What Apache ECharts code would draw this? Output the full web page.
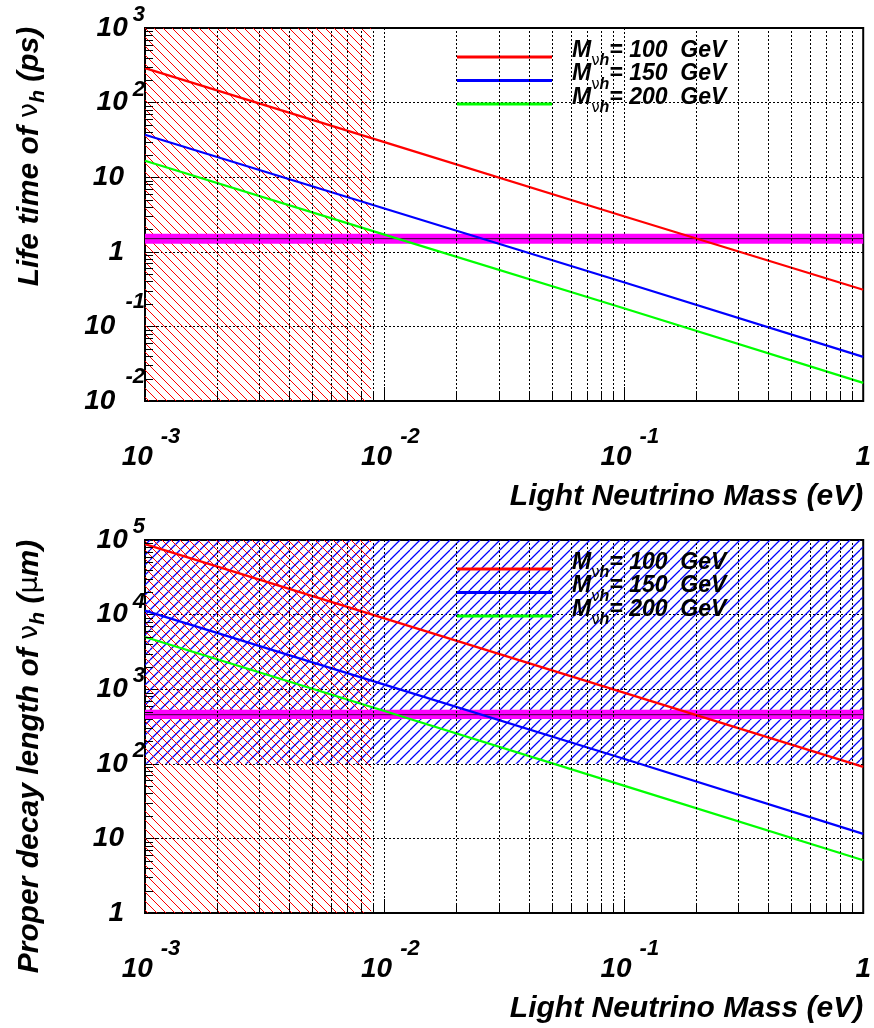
<!DOCTYPE html>
<html><head><meta charset="utf-8">
<script src="https://cdn.jsdelivr.net/npm/echarts@6.0.0/dist/echarts.min.js"></script>
<style>html,body{margin:0;padding:0;background:#fff;}#chart{width:874px;height:1028px;}</style>
</head><body><div id="chart"></div>
<script>
// ---------------- data ----------------
const massX = [0.001, 0.01, 0.1, 1];                 // light neutrino mass (eV)
const lifetime100 = [290, 29.5, 3.0, 0.31];          // ps
const lifetime150 = [37, 3.8, 0.39, 0.039];
const lifetime200 = [16.6, 1.7, 0.175, 0.0175];
const decay100 = [88000, 8900, 900, 91];             // micrometre
const decay150 = [11300, 1150, 117, 11.5];
const decay200 = [5000, 510, 51, 5.1];
const lifetimeBand = [1.28, 1.74];
const lifetimeCentral = 1.5;
const decayBand = [400, 530];
const decayCentral = 455;
const excludedMassRange = [0.001, 0.0088];           // red hatched region
const decayHatchRange = [100, 100000];               // blue hatched region (y)
const heavyMasses = ['100', '150', '200'];
const xRange = [0.001, 1];
const lifetimeRange = [0.01, 1000];
const decayRange = [1, 100000];
const minorMultipliers = [2, 3, 4, 5, 6, 7, 8, 9];

// ---------------- helpers ----------------
const FONT = '"Liberation Sans", Arial, Helvetica, sans-serif';
const bi = {fontFamily: FONT, fontWeight: 'bold', fontStyle: 'italic', color: '#000'};
const COLORS = ['#ff0000', '#0000ff', '#00ff00'];

function minorValues(range) {
  const out = [];
  const e0 = Math.round(Math.log10(range[0])), e1 = Math.round(Math.log10(range[1]));
  for (let e = e0; e < e1; e++) minorMultipliers.forEach(m => out.push(m * Math.pow(10, e)));
  return out;
}
function hatchCanvas(color, size, forward, width) {
  const c = document.createElement('canvas'); c.width = size; c.height = size;
  const g = c.getContext('2d'); g.strokeStyle = color; g.lineWidth = width;
  g.beginPath();
  for (let k = -1; k <= 1; k++) {
    if (forward) { g.moveTo(k * size, size); g.lineTo(k * size + size, 0); }
    else { g.moveTo(k * size, 0); g.lineTo(k * size + size, size); }
  }
  g.stroke();
  return c;
}
const redHatch = {image: hatchCanvas('#ff0000', 9, false, 1.0), repeat: 'repeat'};
const blueHatch = {image: hatchCanvas('#0000ff', 10, true, 1.25), repeat: 'repeat'};

const expOf = v => Math.round(Math.log10(v));
const yRich = {
  p: Object.assign({}, bi, {fontSize: 28, padding: [0, 21, 0, 0]}),
  b: Object.assign({}, bi, {fontSize: 28, lineHeight: 48}),
  e: Object.assign({}, bi, {fontSize: 22, verticalAlign: 'top', padding: [0, 0, 0, 5]}),
  bn: Object.assign({}, bi, {fontSize: 28, lineHeight: 70}),
  en: Object.assign({}, bi, {fontSize: 22, verticalAlign: 'top', padding: [0, 0, 0, 10]})
};
function yLabel(v) {
  const e = expOf(v);
  if (e === 0) return '{p|1}';
  if (e === 1) return '{p|10}';
  if (e > 0) return '{b|10}{e|' + e + '}';
  return '{bn|10}{en|' + e + '}';
}
const xRich = {
  p: Object.assign({}, bi, {fontSize: 28, lineHeight: 62}),
  b: Object.assign({}, bi, {fontSize: 28, lineHeight: 62, padding: [0, 0, 0, 12]}),
  e: Object.assign({}, bi, {fontSize: 22, verticalAlign: 'top', padding: [0, 0, 0, 8]})
};
function xLabel(v) {
  const e = expOf(v);
  if (e === 0) return '{p|1}';
  return '{b|10}{e|' + e + '}';
}
const titleRich = {
  t: Object.assign({}, bi, {fontSize: 30, lineHeight: 38}),
  g: {fontFamily: '"DejaVu Sans", sans-serif', fontSize: 27, color: '#000', lineHeight: 38},
  s: Object.assign({}, bi, {fontSize: 21, verticalAlign: 'bottom'})
};
const legRich = {
  m: Object.assign({}, bi, {fontSize: 23, lineHeight: 36, verticalAlign: 'top', padding: [0, 0, 0, 15]}),
  g: {fontFamily: '"DejaVu Sans", sans-serif', fontSize: 15, color: '#000', verticalAlign: 'bottom', padding: [0, 0, 6, 0]},
  s: Object.assign({}, bi, {fontSize: 16, verticalAlign: 'bottom', padding: [0, 0, 6, 0]}),
  t: Object.assign({}, bi, {fontSize: 23, lineHeight: 36, verticalAlign: 'top'})
};

const GRID_TOPS = [28, 540];
const dotted = {type: [2, 2], color: '#000', width: 1};

function makeXAxis(i) {
  return {
    type: 'log', logBase: 10, gridIndex: i, min: xRange[0], max: xRange[1],
    axisLine: {show: false},
    axisTick: {show: true, inside: true, length: 14, lineStyle: {color: '#000', width: 1}},
    splitLine: {show: true, lineStyle: dotted},
    axisLabel: {margin: 25, formatter: xLabel, rich: xRich},
    name: 'Light Neutrino Mass (eV)', nameLocation: 'end', nameGap: 0,
    nameTextStyle: Object.assign({}, bi, {fontSize: 30, align: 'right', verticalAlign: 'top', padding: [81, 0, 0, 0]})
  };
}
function makeYAxis(i, range, name, pad) {
  return {
    type: 'log', logBase: 10, gridIndex: i, min: range[0], max: range[1],
    axisLine: {show: false},
    axisTick: {show: true, inside: true, length: 14, lineStyle: {color: '#000', width: 1}},
    splitLine: {show: true, lineStyle: dotted},
    axisLabel: {margin: 0, formatter: yLabel, rich: yRich},
    name: name, nameLocation: 'middle', nameGap: 115, nameRotate: 90,
    nameTextStyle: {rich: titleRich, verticalAlign: 'middle', padding: pad}
  };
}
function rectSeries(i, rect, fill, z) {
  return {
    type: 'custom', xAxisIndex: i, yAxisIndex: i, silent: true, z: z, animation: false,
    encode: {x: [0, 1], y: [2, 3]},
    data: [rect],
    renderItem: (params, api) => {
      const a = api.coord([api.value(0), api.value(3)]);
      const b = api.coord([api.value(1), api.value(2)]);
      return {type: 'rect', shape: {x: a[0], y: a[1], width: b[0] - a[0], height: b[1] - a[1]}, style: {fill: fill}};
    }
  };
}
function minorXSeries(i, yr) {
  return {
    type: 'custom', xAxisIndex: i, yAxisIndex: i, silent: true, z: 6, animation: false,
    data: minorValues(xRange).map(v => [v, yr[0]]),
    renderItem: (params, api) => {
      const v = api.value(0);
      const p0 = api.coord([v, yr[0]]), p1 = api.coord([v, yr[1]]);
      const x = Math.round(p0[0]) + 0.5;
      return {type: 'group', children: [
        {type: 'line', shape: {x1: x, y1: p0[1], x2: x, y2: p1[1]}, style: {stroke: '#000', lineWidth: 1, lineDash: [2, 2]}},
        {type: 'line', shape: {x1: x, y1: p0[1], x2: x, y2: p0[1] - 8}, style: {stroke: '#000', lineWidth: 1}}
      ]};
    }
  };
}
function minorYSeries(i, yr) {
  return {
    type: 'custom', xAxisIndex: i, yAxisIndex: i, silent: true, z: 6, animation: false,
    data: minorValues(yr).map(v => [xRange[0], v]),
    renderItem: (params, api) => {
      const p = api.coord([xRange[0], api.value(1)]);
      const y = Math.round(p[1]) + 0.5;
      return {type: 'line', shape: {x1: p[0], y1: y, x2: p[0] + 8, y2: y}, style: {stroke: '#000', lineWidth: 1}};
    }
  };
}
function curve(i, name, ys, color) {
  return {
    type: 'line', name: name, xAxisIndex: i, yAxisIndex: i, z: 5, symbol: 'none', silent: true, animation: false,
    lineStyle: {color: color, width: 2.2}, itemStyle: {color: color},
    data: massX.map((x, k) => [x, ys[k]])
  };
}
function centralLine(i, v) {
  return {
    type: 'line', xAxisIndex: i, yAxisIndex: i, z: 4, symbol: 'none', silent: true, animation: false,
    lineStyle: {color: '#3a003a', width: 1},
    data: [[xRange[0], v], [xRange[1], v]]
  };
}
function legendFor(top, names) {
  return {
    left: 457, top: top, orient: 'vertical', padding: 0, itemGap: -6.5,
    itemWidth: 95, itemHeight: 3, icon: 'rect', selectedMode: false,
    data: names,
    formatter: n => '{m|M}{g|ν}{s|h}{t|= ' + heavyMasses[names.indexOf(n)] + '  GeV}',
    textStyle: {rich: legRich}
  };
}

const topNames = heavyMasses.map(m => 'tau' + m);
const botNames = heavyMasses.map(m => 'len' + m);

const option = {
  backgroundColor: '#fff',
  animation: false,
  grid: GRID_TOPS.map(t => ({left: 145, top: t, width: 719, height: 373, show: true, borderColor: '#000', borderWidth: 2, backgroundColor: 'transparent', containLabel: false})),
  xAxis: [makeXAxis(0), makeXAxis(1)],
  yAxis: [
    makeYAxis(0, lifetimeRange, '{t|Life time of }{g|ν}{s|h}{t| (ps)}', [0, 0, 0, 116]),
    makeYAxis(1, decayRange, '{t|Proper decay length of }{g|ν}{s|h}{t| (}{g|μ}{t|m)}', [0, 60, 0, 0])
  ],
  legend: [legendFor(39, topNames), legendFor(551, botNames)],
  series: [
    rectSeries(0, [excludedMassRange[0], excludedMassRange[1], lifetimeRange[0], lifetimeRange[1]], redHatch, 1),
    rectSeries(0, [xRange[0], xRange[1], lifetimeBand[0], lifetimeBand[1]], '#ff00ff', 3),
    centralLine(0, lifetimeCentral),
    curve(0, topNames[0], lifetime100, COLORS[0]),
    curve(0, topNames[1], lifetime150, COLORS[1]),
    curve(0, topNames[2], lifetime200, COLORS[2]),
    minorXSeries(0, lifetimeRange),
    minorYSeries(0, lifetimeRange),

    rectSeries(1, [xRange[0], xRange[1], decayHatchRange[0], decayHatchRange[1]], blueHatch, 1),
    rectSeries(1, [excludedMassRange[0], excludedMassRange[1], decayRange[0], decayRange[1]], redHatch, 2),
    rectSeries(1, [xRange[0], xRange[1], decayBand[0], decayBand[1]], '#ff00ff', 3),
    centralLine(1, decayCentral),
    curve(1, botNames[0], decay100, COLORS[0]),
    curve(1, botNames[1], decay150, COLORS[1]),
    curve(1, botNames[2], decay200, COLORS[2]),
    minorXSeries(1, decayRange),
    minorYSeries(1, decayRange)
  ]
};
const chart = echarts.init(document.getElementById('chart'), null, {renderer: 'canvas'});
chart.setOption(option);
</script>
</body></html>
